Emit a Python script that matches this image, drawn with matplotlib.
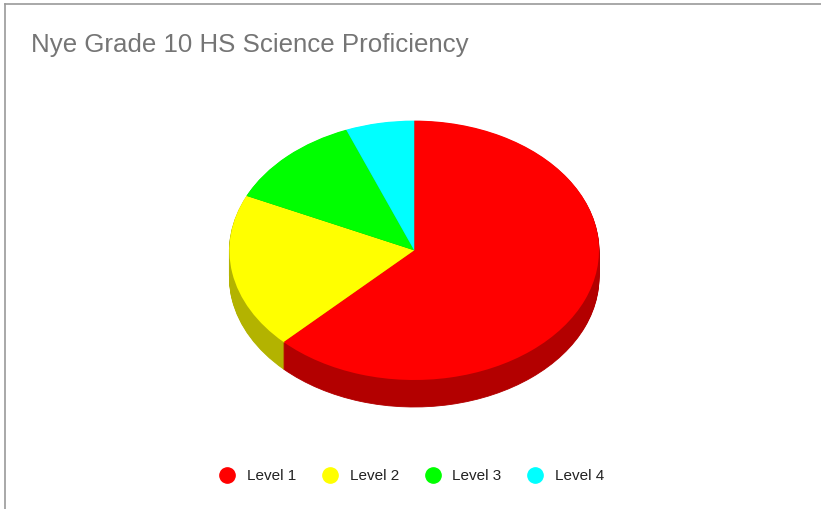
import matplotlib
matplotlib.use("Agg")
import matplotlib.pyplot as plt
from matplotlib.lines import Line2D
from matplotlib.colors import to_rgb

categories = ["Level 1", "Level 2", "Level 3", "Level 4"]
values = [62.5, 19.4, 12.1, 6.0]
colors = ["#FF0000", "#FFFF00", "#00FF00", "#00FFFF"]
title = "Nye Grade 10 HS Science Proficiency"

W, H = 821, 509
fig = plt.figure(figsize=(W / 100, H / 100), dpi=100)
fig.patch.set_facecolor("white")

# pie geometry in pixels
cx, cy = 414.2, 250.3      # center (from top)
rx, ry = 184.8, 129.7
depth = 27

ax = fig.add_axes([0, 0, 1, 1])
xlim = (-cx / rx, (W - cx) / rx)
cy_b = H - cy
ylim = (-cy_b / ry, (H - cy_b) / ry)

dark = [tuple(c * 0.70 for c in to_rgb(col)) for col in colors]

# side layers
for k in range(depth, 0, -1):
    ax.pie(values, colors=dark, startangle=90, counterclock=False,
           radius=1.0, center=(0, -k / ry),
           wedgeprops=dict(linewidth=0.6, antialiased=True))
    for w in ax.patches[-len(values):]:
        w.set_edgecolor(w.get_facecolor())

# top face
ax.pie(values, colors=colors, startangle=90, counterclock=False,
       radius=1.0, center=(0, 0),
       wedgeprops=dict(linewidth=0, antialiased=True))

ax.set_aspect("auto")
ax.set_xlim(*xlim)
ax.set_ylim(*ylim)
ax.axis("off")

# border (top and left)
fig.add_artist(Line2D([4.5 / W, 4.5 / W], [0, 1 - 4 / H], color="#9a9a9a", lw=1.2,
                      transform=fig.transFigure))
fig.add_artist(Line2D([4.5 / W, 1], [1 - 4 / H, 1 - 4 / H], color="#9a9a9a", lw=1.2,
                      transform=fig.transFigure))

fig.text(31 / W, 1 - 52 / H, title, fontsize=18.6, color="#757575",
         family="Liberation Sans", ha="left", va="baseline")

handles = [Line2D([], [], marker="o", linestyle="none", markersize=11,
                  markerfacecolor=c, markeredgecolor=c) for c in colors]
fig.legend(handles, categories, loc="center", bbox_to_anchor=(412 / W, 1 - 476 / H),
           ncol=4, frameon=False, prop=dict(family="Liberation Sans", size=11),
           labelcolor="#222222", handletextpad=0.8, columnspacing=1.7,
           handlelength=1.0)

fig.savefig("out.png", dpi=100)
